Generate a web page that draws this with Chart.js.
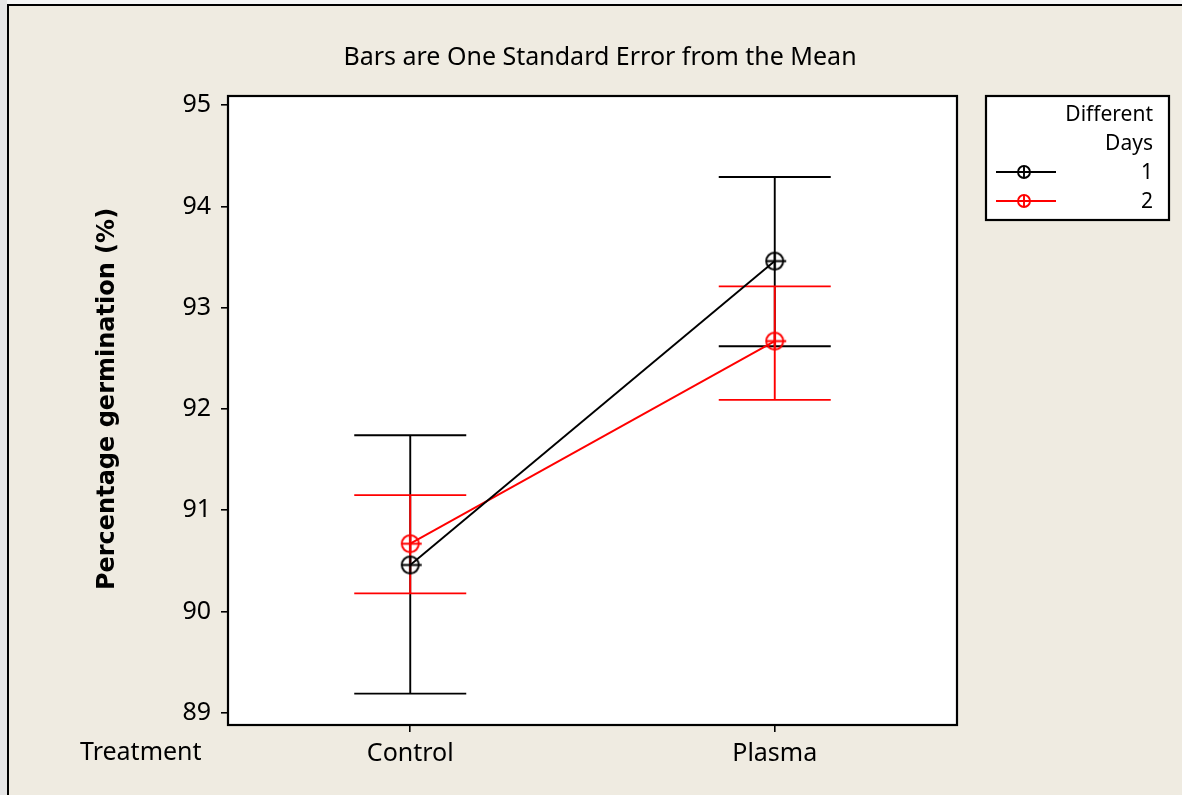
<!DOCTYPE html>
<html>
<head>
<meta charset="utf-8">
<script src="https://cdn.jsdelivr.net/npm/chart.js@4.4.0/dist/chart.umd.min.js"></script>
<style>
  html, body { margin: 0; padding: 0; background: #ececec; }
  canvas { display: block; }
</style>
</head>
<body>
<canvas id="c" width="1182" height="795"></canvas>
<script>
// ---- data ----
const categories = ['Control', 'Plasma'];
const seriesNames = ['1', '2'];
const day1Mean  = [90.46, 93.46];
const day1Upper = [91.74, 94.29];
const day1Lower = [89.19, 92.62];
const day2Mean  = [90.67, 92.67];
const day2Upper = [91.15, 93.21];
const day2Lower = [90.18, 92.09];
const yTicks = [89, 90, 91, 92, 93, 94, 95];

const titleText = 'Bars are One Standard Error from the Mean';
const yTitle = 'Percentage germination (%)';
const xTitle = 'Treatment';
const legendTitle = ['Different', 'Days'];

const FONT = 'Noto Sans';
const BG = '#efebe1';

function makeMarker(color, r) {
  const s = 2 * r + 8;
  const c = document.createElement('canvas');
  c.width = s; c.height = s;
  const g = c.getContext('2d');
  const m = s / 2;
  g.strokeStyle = color; g.lineWidth = 1.9;
  g.beginPath(); g.arc(m, m, r, 0, Math.PI * 2); g.stroke();
  g.beginPath();
  g.moveTo(m - r, m); g.lineTo(m + r + 3, m);
  g.moveTo(m, m - r); g.lineTo(m, m + r);
  g.stroke();
  return c;
}

const series = [
  { label: seriesNames[0], color: '#000000', mean: day1Mean, upper: day1Upper, lower: day1Lower },
  { label: seriesNames[1], color: '#ff0000', mean: day2Mean, upper: day2Upper, lower: day2Lower }
];

const framePlugin = {
  id: 'frame',
  beforeDraw(chart) {
    const ctx = chart.ctx, a = chart.chartArea;
    ctx.save();
    ctx.fillStyle = '#f6f6f6';
    ctx.fillRect(0, 0, chart.width, chart.height);
    ctx.fillStyle = '#e6e6e6';
    ctx.fillRect(0, 0, 7, chart.height);
    ctx.fillStyle = BG;
    ctx.fillRect(8, 5, chart.width - 8, chart.height - 5);
    ctx.strokeStyle = '#000'; ctx.lineWidth = 2;
    ctx.beginPath();
    ctx.moveTo(8, chart.height); ctx.lineTo(8, 5); ctx.lineTo(chart.width, 5);
    ctx.stroke();
    ctx.fillStyle = '#ffffff';
    ctx.fillRect(a.left, a.top, a.right - a.left, a.bottom - a.top);
    ctx.restore();
  },
  beforeDatasetsDraw(chart) {
    const ctx = chart.ctx;
    const xs = chart.scales.x, ys = chart.scales.y;
    const cap = 56;
    ctx.save();
    ctx.lineWidth = 1.9;
    series.forEach(s => {
      ctx.strokeStyle = s.color;
      categories.forEach((cat, i) => {
        const x = xs.getPixelForValue(i);
        const yt = ys.getPixelForValue(s.upper[i]);
        const yb = ys.getPixelForValue(s.lower[i]);
        ctx.beginPath();
        ctx.moveTo(x, yt); ctx.lineTo(x, yb);
        ctx.moveTo(x - cap, yt); ctx.lineTo(x + cap, yt);
        ctx.moveTo(x - cap, yb); ctx.lineTo(x + cap, yb);
        ctx.stroke();
      });
    });
    ctx.restore();
  },
  afterDraw(chart) {
    const ctx = chart.ctx, a = chart.chartArea;
    ctx.save();
    // plot box
    ctx.strokeStyle = '#000'; ctx.lineWidth = 2.2;
    ctx.strokeRect(a.left, a.top, a.right - a.left, a.bottom - a.top);
    // title
    ctx.fillStyle = '#000';
    ctx.font = '25px "' + FONT + '"';
    ctx.textAlign = 'center'; ctx.textBaseline = 'middle';
    ctx.fillText(titleText, 600, 58);
    // x title
    ctx.textAlign = 'left';
    ctx.fillText(xTitle, 80, 753);
    // y title
    ctx.save();
    ctx.translate(108, 399);
    ctx.rotate(-Math.PI / 2);
    ctx.textAlign = 'center';
    ctx.font = 'bold 24px "DejaVu Sans"';
    ctx.fillText(yTitle, 0, 0);
    ctx.restore();
    // legend
    const L = { x: 986, y: 96, w: 183, h: 124 };
    ctx.fillStyle = '#ffffff';
    ctx.fillRect(L.x, L.y, L.w, L.h);
    ctx.strokeStyle = '#000'; ctx.lineWidth = 2.2;
    ctx.strokeRect(L.x, L.y, L.w, L.h);
    ctx.fillStyle = '#000';
    ctx.font = '21px "' + FONT + '"';
    ctx.textAlign = 'right';
    ctx.fillText(legendTitle[0], 1153, 115);
    ctx.fillText(legendTitle[1], 1153, 144);
    series.forEach((s, i) => {
      const y = 172 + i * 29;
      ctx.strokeStyle = s.color; ctx.lineWidth = 1.9;
      ctx.beginPath(); ctx.moveTo(996, y); ctx.lineTo(1056, y); ctx.stroke();
      const mk = makeMarker(s.color, 6);
      ctx.drawImage(mk, 1024 - mk.width / 2, y - mk.height / 2);
      ctx.fillStyle = '#000';
      ctx.fillText(s.label, 1153, y + 1);
    });
    ctx.restore();
  }
};

new Chart(document.getElementById('c'), {
  type: 'line',
  data: {
    labels: categories,
    datasets: series.map(s => ({
      label: s.label,
      data: s.mean,
      borderColor: s.color,
      backgroundColor: s.color,
      borderWidth: 1.9,
      pointStyle: makeMarker(s.color, 8.5),
      pointRadius: 10,
      tension: 0,
      fill: false
    }))
  },
  options: {
    responsive: false,
    animation: false,
    devicePixelRatio: 1,
    layout: { padding: { left: 88, top: 96, right: 225, bottom: 0 } },
    plugins: { legend: { display: false }, title: { display: false }, tooltip: { enabled: false } },
    scales: {
      x: {
        type: 'category',
        offset: true,
        afterFit(scale) { scale.height = 70; },
        grid: { display: true, drawOnChartArea: false, offset: false, color: '#000', lineWidth: 1.6, tickLength: 7 },
        border: { display: false },
        ticks: { color: '#000', font: { family: FONT, size: 25 }, padding: 7, maxRotation: 0 }
      },
      y: {
        min: 88.88,
        max: 95.09,
        afterFit(scale) { scale.width = 140; },
        afterBuildTicks(scale) { scale.ticks = yTicks.map(v => ({ value: v })); },
        grid: { display: true, drawOnChartArea: false, color: '#000', lineWidth: 1.6, tickLength: 7 },
        border: { display: false },
        ticks: { color: '#000', font: { family: FONT, size: 25 }, padding: 10 }
      }
    }
  },
  plugins: [framePlugin]
});
</script>
</body>
</html>
